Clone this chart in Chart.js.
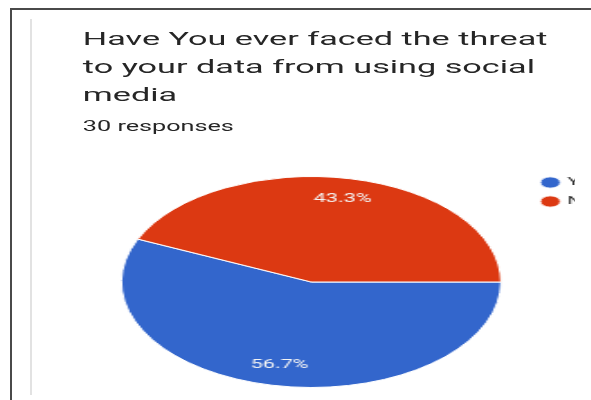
<!DOCTYPE html>
<html>
<head>
<meta charset="utf-8">
<script src="https://cdn.jsdelivr.net/npm/chart.js@4/dist/chart.umd.min.js"></script>
<style>
  html, body { margin:0; padding:0; background:#fff; }
  body { width:591px; height:400px; overflow:hidden; position:relative; font-family: Roboto, "Noto Sans", sans-serif; }
  #clip { position:absolute; left:0; top:0; width:575px; height:400px; overflow:hidden; }
  #stage { position:absolute; left:0; top:0; width:328px; height:400px; transform:scaleX(1.8); transform-origin:0 0; }
  #title { position:absolute; left:46px; top:25px; font-size:19px; line-height:28px; color:#262626; white-space:nowrap; }
  #sub { position:absolute; left:46px; top:116px; font-size:14px; line-height:20px; color:#262626; white-space:nowrap; }
  #chartBox { position:absolute; left:52.4px; top:169px; width:291px; height:226px; }
  .line { position:absolute; }
</style>
</head>
<body>
<div id="clip">
  <div id="stage">
    <div id="title">Have You ever faced the threat<br>to your data from using social<br>media</div>
    <div id="sub">30 responses</div>
    <div id="chartBox"><canvas id="c"></canvas></div>
  </div>
</div>
<div class="line" style="left:10px;top:8px;width:581px;height:2px;background:#4a4a4a"></div>
<div class="line" style="left:10px;top:8px;width:2px;height:392px;background:#4a4a4a"></div>
<div class="line" style="left:30px;top:19px;width:2px;height:376px;background:#e2e2e2"></div>
<script>
const categories = ['Yes', 'No'];
const responses = [17, 13];
const sliceColors = ['#3366cc', '#dc3912'];

const pctLabels = {
  id: 'pctLabels',
  afterDatasetsDraw(chart) {
    const meta = chart.getDatasetMeta(0);
    const values = chart.data.datasets[0].data;
    const total = values.reduce((a, b) => a + b, 0);
    const ctx = chart.ctx;
    ctx.save();
    ctx.font = '12px Roboto';
    ctx.fillStyle = '#f4f4f4';
    ctx.textAlign = 'center';
    ctx.textBaseline = 'middle';
    meta.data.forEach((arc, i) => {
      const p = arc.getProps(['x', 'y', 'startAngle', 'endAngle', 'outerRadius'], true);
      const mid = (p.startAngle + p.endAngle) / 2;
      const r = p.outerRadius * 0.8;
      ctx.fillText((values[i] / total * 100).toFixed(1) + '%', p.x + Math.cos(mid) * r, p.y + Math.sin(mid) * r);
    });
    ctx.restore();
  }
};

new Chart(document.getElementById('c'), {
  type: 'pie',
  data: {
    labels: categories,
    datasets: [{
      data: responses,
      backgroundColor: sliceColors,
      borderColor: '#ffffff',
      borderWidth: 1,
      radius: 105.5
    }]
  },
  options: {
    responsive: true,
    maintainAspectRatio: false,
    animation: false,
    rotation: 90,
    layout: { padding: 0 },
    plugins: {
      tooltip: { enabled: false },
      legend: {
        position: 'right',
        align: 'start',
        labels: {
          usePointStyle: true,
          pointStyle: 'circle',
          boxWidth: 8,
          boxHeight: 8,
          padding: 8,
          color: '#222222',
          font: { family: 'Roboto', size: 11 }
        }
      }
    }
  },
  plugins: [pctLabels]
});
</script>
</body>
</html>
